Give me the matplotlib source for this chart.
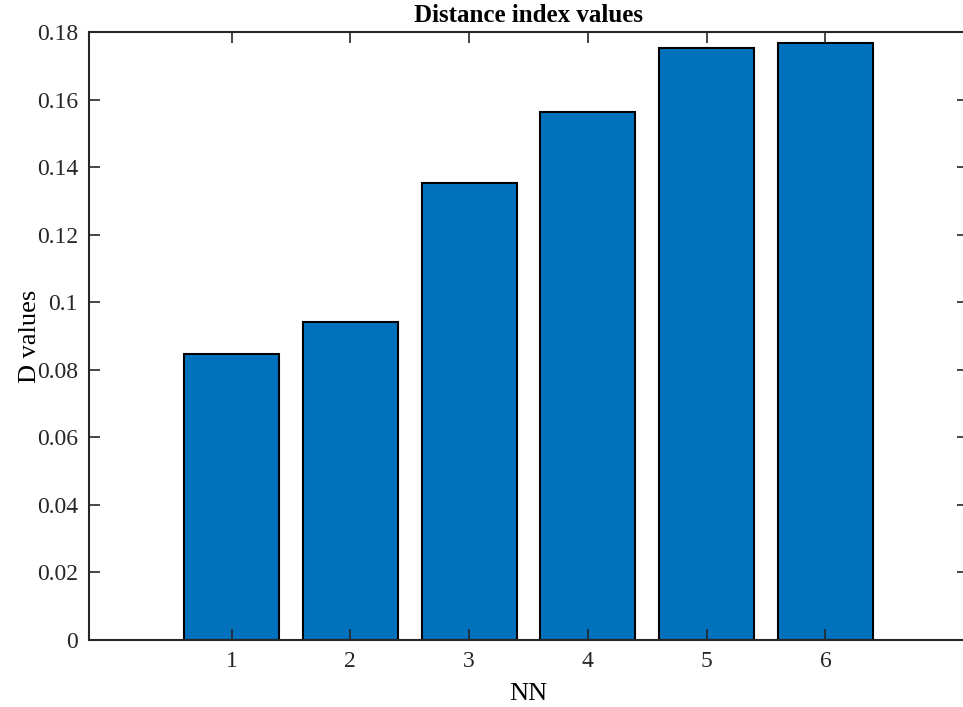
import matplotlib
matplotlib.use("Agg")
from matplotlib import pyplot as plt
from matplotlib.ticker import FuncFormatter

# D values per NN
nn = [1, 2, 3, 4, 5, 6]
d_values = [0.0846, 0.0941, 0.1352, 0.1564, 0.1753, 0.1766]

plt.rcParams['font.family'] = ['Liberation Serif', 'DejaVu Serif']

fig = plt.figure(figsize=(9.63, 7.07), dpi=100)
ax = fig.add_axes([89 / 963, 67 / 707, 879 / 963, 608 / 707])

ax.bar(nn, d_values, width=0.8, color='#0072BD', edgecolor='black', linewidth=1.5)

ax.set_xlim(-0.2, 7.2)
ax.set_ylim(0, 0.18)
ax.set_xticks(nn)
ax.set_yticks([i * 0.02 for i in range(10)])
ax.yaxis.set_major_formatter(FuncFormatter(lambda v, p: '%g' % round(v, 4)))

for s in ax.spines.values():
    s.set_linewidth(1.5)
    s.set_color('#262626')
ax.tick_params(direction='in', length=8, width=1.2, colors='#262626',
               labelsize=17, top=True, right=True, pad=8)

ax.set_title("Distance index values", fontsize=18, fontweight='bold', pad=7)
ax.set_ylabel("D values", fontsize=19, labelpad=-3)
ax.set_xlabel("NN", fontsize=19, labelpad=8)

fig.savefig("out.png", dpi=100)
